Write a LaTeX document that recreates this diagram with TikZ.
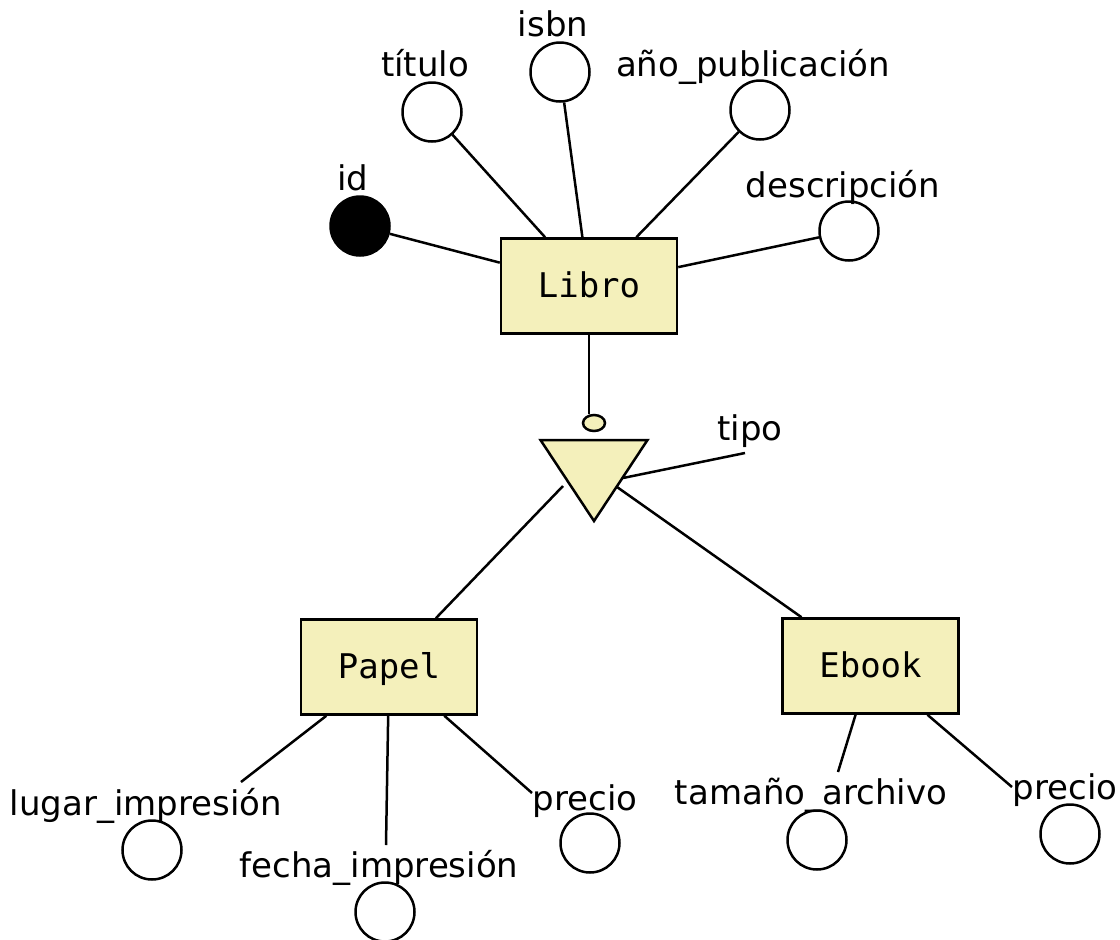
\documentclass[tikz,border=0pt]{standalone}
\usepackage{fontspec}
\setmainfont{DejaVu Sans}
\setmonofont{DejaVu Sans Mono}
\usetikzlibrary{shapes.geometric}
\definecolor{erfill}{HTML}{F4F0BB}
\begin{document}
\begin{tikzpicture}[x=1pt,y=-1pt,
  ent/.style={draw, line width=2.5pt, fill=erfill, minimum width=176pt, minimum height=95pt,
    inner sep=0pt, font=\ttfamily\fontsize{34}{40}\selectfont, text height=30pt, text depth=8pt},
  attr/.style={circle, draw, line width=2.5pt, minimum size=59pt, inner sep=0pt},
  keyattr/.style={attr, fill=black},
  lbl/.style={anchor=base, inner sep=0pt, font=\fontsize{34}{40}\selectfont},
  conn/.style={line width=2.5pt}]
\useasboundingbox (0,0) rectangle (1120,940);

% entities
\node[ent] (Libro) at (589,286) {Libro};
\node[ent] (Papel) at (389,667) {Papel};
\node[ent] (Ebook) at (870.5,666) {Ebook};

% Libro attributes
\node[keyattr] (id) at (360,226) {};
\node[attr] (titulo) at (432,112) {};
\node[attr] (isbn) at (560,72) {};
\node[attr] (anio) at (760,110) {};
\node[attr] (descr) at (849,231) {};
\node[lbl] (lid) at (353,190) {id};
\node[lbl] (ltitulo) at (425,76) {título};
\node[lbl] (lisbn) at (553,36) {isbn};
\node[lbl] (lanio) at (753,76) {año\_publicación};
\node[lbl] (ldescr) at (843,197) {descripción};

\draw[conn] (id) -- (Libro);
\draw[conn] (titulo) -- (Libro);
\draw[conn] (isbn) -- (Libro);
\draw[conn] (anio) -- (Libro);
\draw[conn] (descr) -- (Libro);

% specialization
\node[draw, line width=2.5pt, fill=erfill, ellipse, minimum width=22pt, minimum height=16pt, inner sep=0pt] (disj) at (594,423) {};
\draw[conn] (Libro.south) -- (Libro.south |- disj.north);
\draw[line width=2.5pt, fill=erfill, line join=miter] (540.5,440) -- (647.5,440) -- (594,521) -- cycle;
\coordinate (triL) at (563,486);
\coordinate (triR) at (617,487);
\coordinate (triT) at (623,478);
\coordinate (tipoE) at (745,453);
\node[lbl] (ltipo) at (750,440) {tipo};
\draw[conn] (triT) -- (tipoE);
\draw[conn] (triL) -- (Papel);
\draw[conn] (triR) -- (Ebook);

% Papel attributes
\node[attr] (lugar) at (152,850) {};
\node[attr] (fecha) at (385,912) {};
\node[attr] (precioP) at (590,843) {};
\node[lbl] (llugar) at (146,815) {lugar\_impresión};
\node[lbl] (lfecha) at (379,877) {fecha\_impresión};
\node[lbl] (lprecioP) at (585,810) {precio};
\coordinate (lugE) at (241,782);
\coordinate (fechaE) at (386,845);
\coordinate (precioPE) at (532,793);
\draw[conn] (lugE) -- (Papel);
\draw[conn] (fechaE) -- (Papel);
\draw[conn] (precioPE) -- (Papel);

% Ebook attributes
\node[attr] (tam) at (817,840) {};
\node[attr] (precioE) at (1070,834) {};
\node[lbl] (ltam) at (811,804) {tamaño\_archivo};
\node[lbl] (lprecioE) at (1065,799) {precio};
\coordinate (tamE) at (838,772);
\coordinate (precioEE) at (1012,787);
\draw[conn] (tamE) -- (Ebook);
\draw[conn] (precioEE) -- (Ebook);
\end{tikzpicture}
\end{document}
